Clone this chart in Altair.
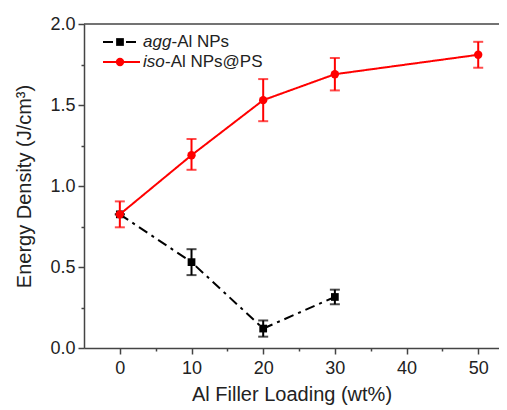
import altair as alt
import pandas as pd

# Data
loading = [0, 10, 20, 30, 50]
iso_y = [0.825, 1.19, 1.53, 1.69, 1.81]
iso_lo = [0.745, 1.10, 1.40, 1.59, 1.73]
iso_hi = [0.905, 1.29, 1.66, 1.79, 1.89]

agg_x = [0, 10, 20, 30]
agg_y = [0.825, 0.53, 0.12, 0.315]
agg_lo = [0.825, 0.45, 0.07, 0.27]
agg_hi = [0.825, 0.61, 0.17, 0.36]

iso = pd.DataFrame({"x": loading, "y": iso_y, "lo": iso_lo, "hi": iso_hi})
agg = pd.DataFrame({"x": agg_x, "y": agg_y, "lo": agg_lo, "hi": agg_hi})

AX = "#444444"
FONT = "Liberation Sans"

xscale = alt.Scale(domain=[-5, 52.9], nice=False, zero=False)
yscale = alt.Scale(domain=[0, 2.0], nice=False)

xaxis = alt.Axis(
    values=[0, 5, 10, 15, 20, 25, 30, 35, 40, 45, 50],
    labelExpr="datum.value % 10 == 0 ? datum.label : ''",
    tickSize={"condition": {"test": "datum.value % 10 == 0", "value": 6}, "value": 3},
    title="Al Filler Loading (wt%)",
    grid=False, domainColor=AX, tickColor=AX, domainWidth=1.5, tickWidth=1.5,
    labelFont=FONT, labelFontSize=18, labelColor="#222", labelPadding=5,
    titleFont=FONT, titleFontSize=20, titleFontWeight="normal", titleColor="#222", titlePadding=7,
)
yaxis = alt.Axis(
    values=[0, 0.25, 0.5, 0.75, 1.0, 1.25, 1.5, 1.75, 2.0],
    labelExpr="datum.value % 0.5 == 0 ? format(datum.value, '.1f') : ''",
    tickSize={"condition": {"test": "datum.value % 0.5 == 0", "value": 6}, "value": 3},
    title="Energy Density (J/cm³)",
    grid=False, domainColor=AX, tickColor=AX, domainWidth=1.5, tickWidth=1.5,
    labelFont=FONT, labelFontSize=18, labelColor="#222", labelPadding=3,
    titleFont=FONT, titleFontSize=20, titleFontWeight="normal", titleColor="#222", titlePadding=15,
)

X = alt.X("x:Q", scale=xscale, axis=xaxis)
Y = alt.Y("y:Q", scale=yscale, axis=yaxis)
YLO = alt.Y("lo:Q", scale=yscale, axis=yaxis)
YHI = alt.Y("hi:Q", scale=yscale, axis=yaxis)

def series(df, color, shape, size, dash):
    base = alt.Chart(df)
    line = base.mark_line(color=color, strokeWidth=2, strokeDash=dash).encode(x=X, y=Y)
    err = base.mark_rule(color=color, strokeWidth=2).encode(x=X, y=YLO, y2="hi:Q")
    cap_lo = base.mark_tick(color=color, orient="horizontal", size=10, thickness=2).encode(x=X, y=YLO)
    cap_hi = base.mark_tick(color=color, orient="horizontal", size=10, thickness=2).encode(x=X, y=YHI)
    pts = base.mark_point(color=color, shape=shape, filled=True, size=size, opacity=1).encode(x=X, y=Y)
    return [line, err, cap_lo, cap_hi, pts]

frame = alt.Chart(pd.DataFrame({"y": [2.0]})).mark_rule(color=AX, strokeWidth=1.5).encode(y=Y)

# Legend (decoration)
one = pd.DataFrame({"a": [0]})
leg_black_line = alt.Chart(one).mark_rule(
    color="black", strokeWidth=2, strokeDash=[10, 5, 3, 5]).encode(
    x=alt.value(19), x2=alt.value(53), y=alt.value(18))
leg_black_pt = alt.Chart(one).mark_point(
    color="black", shape="square", filled=True, size=60, opacity=1).encode(
    x=alt.value(36), y=alt.value(18))
leg_red_line = alt.Chart(one).mark_rule(
    color="red", strokeWidth=2).encode(
    x=alt.value(19), x2=alt.value(56), y=alt.value(38))
leg_red_pt = alt.Chart(one).mark_point(
    color="red", shape="circle", filled=True, size=70, opacity=1).encode(
    x=alt.value(36), y=alt.value(38))

def txt(s, xpx, ypx, italic):
    return alt.Chart(pd.DataFrame({"t": [s]})).mark_text(
        align="left", baseline="middle", font=FONT, fontSize=17,
        fontStyle="italic" if italic else "normal", color="#222").encode(
        text="t:N", x=alt.value(xpx), y=alt.value(ypx))

legend = [leg_black_line, leg_black_pt, leg_red_line, leg_red_pt,
          txt("agg", 59, 18, True), txt("-Al NPs", 87.5, 18, False),
          txt("iso", 59, 38, True), txt("-Al NPs@PS", 81, 38, False)]

layers = series(agg, "black", "square", 60, [10, 5, 3, 5]) + \
         series(iso, "red", "circle", 70, [1, 0]) + [frame] + legend

chart = alt.layer(*layers).properties(
    width=415, height=324,
    autosize=alt.AutoSizeParams(type="none"),
    padding={"left": 76, "top": 16, "right": 0, "bottom": 58},
    background="white",
).configure_view(stroke=None)

chart.save("out.html", embed_options={"renderer": "svg", "actions": False})
